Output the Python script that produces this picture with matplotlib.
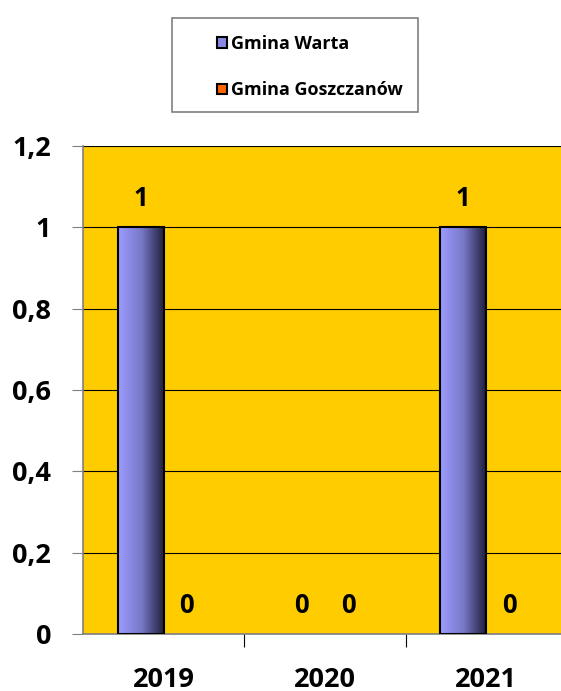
import numpy as np
import matplotlib
matplotlib.use("Agg")
from matplotlib import pyplot as plt
from matplotlib.colors import LinearSegmentedColormap
from matplotlib.patches import Rectangle

years = ["2019", "2020", "2021"]
warta = [1, 0, 1]
goszczanow = [0, 0, 0]
yticks = [0, 0.2, 0.4, 0.6, 0.8, 1.0, 1.2]
ytick_labels = ["0", "0,2", "0,4", "0,6", "0,8", "1", "1,2"]

plt.rcParams['font.family'] = ['Open Sans', 'DejaVu Sans']

fig = plt.figure(figsize=(5.61, 6.91), dpi=100)
ax = fig.add_axes([83 / 561, 57 / 691, 484 / 561, 488 / 691])
ax.set_facecolor("#FFCC00")

x = np.arange(len(years))
w = 0.286
off = 0.07  # value label offset above bar top
grad = LinearSegmentedColormap.from_list("g", ["#9C9CFF", "#7878C8", "#1C1C36"])
gimg = np.linspace(0, 1, 256).reshape(1, -1)

for xi, v in zip(x, warta):
    left = xi - w
    if v > 0:
        ax.imshow(gimg, cmap=grad, extent=[left, left + w, 0, v], aspect="auto", zorder=3)
        ax.add_patch(Rectangle((left, 0), w, v, facecolor="none", edgecolor="black", lw=1.5, zorder=4))
    ax.text(xi - w / 2, v + off, str(v), ha="center", va="center", fontsize=18.5, fontweight="bold", zorder=5)

for xi, v in zip(x, goszczanow):
    if v > 0:
        ax.bar(xi, v, w, align="edge", color="#FF6600", edgecolor="black", lw=1.5, zorder=4)
    ax.text(xi + w / 2, v + off, str(v), ha="center", va="center", fontsize=18.5, fontweight="bold", zorder=5)

ax.set_xlim(-0.5, 2.5)
ax.set_ylim(0, 1.2)
ax.set_yticks(yticks)
ax.set_yticklabels(ytick_labels, fontsize=19.5, fontweight="bold")
ax.yaxis.grid(True, color="black", lw=0.8)
ax.set_axisbelow(True)
ax.tick_params(axis="y", length=8, color="#808080", pad=15)

ax.set_xticks([0.5, 1.5])
ax.set_xticklabels([])
ax.tick_params(axis="x", length=9, color="black")
for xi, yr in zip(x, years):
    ax.text(xi, -0.112, yr, ha="center", va="center", fontsize=19.5, fontweight="bold",
            transform=ax.transData, clip_on=False)

for s in ["top", "right"]:
    ax.spines[s].set_visible(False)
ax.spines["left"].set_color("#808080")
ax.spines["bottom"].set_color("#808080")
ax.spines["left"].set_linewidth(1.2)
ax.spines["bottom"].set_linewidth(1.2)

# legend box
fig.patches.append(Rectangle((172 / 561, 1 - 112 / 691), 246 / 561, 94 / 691,
                             transform=fig.transFigure, facecolor="white",
                             edgecolor="#808080", lw=1.2))
h1 = Rectangle((0, 0), 1, 1, facecolor="#8A8AE6", edgecolor="black", lw=1.5)
h2 = Rectangle((0, 0), 1, 1, facecolor="#FF6600", edgecolor="black", lw=1.5)
fig.legend([h1, h2], ["Gmina Warta", "Gmina Goszczanów"], loc="center left",
           bbox_to_anchor=(208 / 561, 1 - 67 / 691), frameon=False,
           prop={"size": 13, "weight": "bold"}, handlelength=0.55, handleheight=0.55,
           handletextpad=0.25, labelspacing=1.6, borderpad=0)

fig.savefig("out.png", dpi=100)
